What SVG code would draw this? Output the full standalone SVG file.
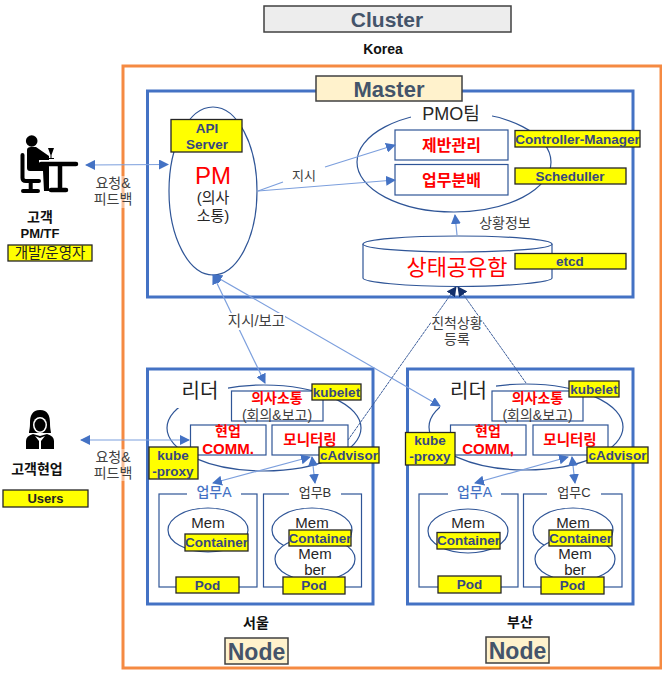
<svg xmlns="http://www.w3.org/2000/svg" width="662" height="677" viewBox="0 0 662 677">
<style>
text{font-family:"Liberation Sans","Noto Sans CJK KR",sans-serif;text-anchor:middle}
.frame{fill:none;stroke:#4472c4;stroke-width:3}
.thin{fill:#fff;stroke:#2f5597;stroke-width:1.2}
.open{fill:none;stroke:#2f5597;stroke-width:1.2}
.y{fill:#ff0;stroke:#262626;stroke-width:1.3}
.yt{font-weight:700;font-size:13.500px;fill:#36477f}
.title{fill:#fff2cc;stroke:#404040;stroke-width:1.5}
.tt{font-weight:700;fill:#44546a}
.red{fill:#f00;font-weight:700}
.lab{font-size:14px;fill:#404040}
.blk{font-size:15px;fill:#262626}
.b{font-weight:700;font-size:14px;fill:#111}
.wbg{fill:#fff;stroke:none}
.con{fill:none;stroke:#7c9fdd;stroke-width:1.2}
.dash{fill:none;stroke:#3e5f9c;stroke-width:1;stroke-dasharray:3 .6}
</style>
<defs>
<marker id="ah" markerUnits="userSpaceOnUse" markerWidth="11" markerHeight="10" refX="9" refY="5" orient="auto-start-reverse"><path d="M0 0L10 5L0 10Z" fill="#4472c4"/></marker>
<marker id="ad" markerUnits="userSpaceOnUse" markerWidth="11" markerHeight="10" refX="9" refY="5" orient="auto"><path d="M0 0L10 5L0 10Z" fill="#14306b"/></marker>
</defs>

<g id="cluster"><rect x="264" y="6" width="247" height="26" fill="#ededed" stroke="#404040" stroke-width="1.5"/><text class="tt" x="387" y="27" font-size="21">Cluster</text></g>
<text class="b" x="383" y="54">Korea</text>
<rect id="korea-frame" x="123" y="66" width="538" height="602" fill="none" stroke="#f58a42" stroke-width="3"/>

<g id="master">
<rect class="frame" x="147.500" y="91" width="485.500" height="206"/>
<rect class="title" x="316" y="76" width="146" height="25"/><text class="tt" x="389" y="97" font-size="22">Master</text>
</g>
<g id="pm">
<ellipse class="thin" cx="213" cy="191" rx="44" ry="84"/>
<text x="213" y="184" font-size="24" fill="#f00">PM</text>
<text class="blk" x="213" y="203">(의사</text><text class="blk" x="213" y="221">소통)</text>
<rect class="y" x="171" y="119.500" width="71" height="32.500"/>
<text class="yt" x="207" y="133">API</text><text class="yt" x="207" y="149">Server</text>
</g>
<g id="pmo">
<ellipse class="open" cx="454" cy="162" rx="97" ry="50"/>
<rect class="wbg" x="411" y="105" width="81" height="20"/>
<text x="451" y="120" font-size="18" fill="#262626">PMO팀</text>
<rect class="thin" x="395" y="130" width="113" height="30"/><text class="red" x="451.500" y="151" font-size="16">제반관리</text>
<rect class="thin" x="395" y="164.500" width="113" height="30.500"/><text class="red" x="451.500" y="186" font-size="16">업무분배</text>
<rect class="y" x="515" y="130.500" width="125" height="16.500"/><text class="yt" x="577.500" y="143.500">Controller-Manager</text>
<rect class="y" x="515" y="168" width="111" height="16"/><text class="yt" x="570" y="181">Scheduller</text>
</g>
<g id="state">
<path class="thin" d="M363 244V278C363 282 405 286.500 457.500 286.500S552 282 552 278V244"/>
<ellipse class="thin" cx="457.500" cy="244" rx="94.500" ry="8"/>
<text x="457" y="275" font-size="22" fill="#f00">상태공유함</text>
<rect class="y" x="515" y="253.500" width="111" height="15.500"/><text class="yt" x="570" y="266">etcd</text>
</g>

<g id="customer-pm">
<circle cx="31.700" cy="141" r="5.800" fill="#000"/>
<path d="M27 150Q27 147 31 147H36L49 156V160H39V164H48Q49 164 49 167V191H44L43 171H30Q27 171 27 168Z" fill="#000"/>
<path d="M22.500 155V178Q22.500 181 26 181H39M30.700 181V190M23 191H38" fill="none" stroke="#000" stroke-width="4" stroke-linecap="round"/>
<path d="M41 164H76M60 164V190M51 190H66" fill="none" stroke="#000" stroke-width="4.500" stroke-linecap="round"/>
<path d="M48 148H54L51.500 155V158H54V159H48V158H50.500V155Z" fill="#000"/>
<text class="b" x="40" y="222">고객</text><text class="b" x="40" y="238" style="font-size:13px">PM/TF</text>
<rect class="y" x="8" y="245" width="84" height="16"/><text x="50" y="258" font-size="14.500" fill="#222">개발/운영자</text>
</g>
<g id="customer-field">
<path d="M40 410C32 410 30 416 30 423C30 429 29 431 29 433H51C51 431 50 429 50 423C50 416 48 410 40 410Z" fill="#000"/>
<path d="M26 449V441Q26 436 33 434L40 436L47 434Q54 436 54 441V449Z" fill="#000"/>
<ellipse cx="40" cy="425" rx="7" ry="8" fill="#fff"/><ellipse cx="40" cy="425" rx="5.500" ry="6.500" fill="#000"/>
<path d="M35 436L40 438L45 436L41 441V449H39V441Z" fill="#fff"/>
<text class="b" x="37" y="474">고객현업</text>
<rect class="y" x="3" y="490" width="85" height="17"/><text x="45.500" y="503" font-size="13" font-weight="700" fill="#222">Users</text>
</g>

<g id="node-seoul">
<rect class="frame" x="147.500" y="369" width="225.500" height="235"/>
<ellipse class="open" cx="264" cy="428" rx="97" ry="43"/>
<rect class="wbg" x="172" y="375" width="56" height="33"/>
<text x="200" y="398" font-size="20" fill="#222">리더</text>
<rect class="thin" x="231.500" y="391" width="91.500" height="30"/>
<text class="red" x="277" y="403" font-size="14">의사소통</text><text class="lab" x="277" y="420">(회의&amp;보고)</text>
<rect class="thin" x="190.500" y="425" width="75.500" height="30"/>
<text class="red" x="228" y="436" font-size="14">현업</text><text class="red" x="228" y="454" font-size="15">COMM.</text>
<rect class="thin" x="272" y="425" width="76" height="30"/><text class="red" x="310" y="445" font-size="14.500">모니터링</text>
<rect class="y" x="312" y="384" width="49" height="16"/><text class="yt" x="336.500" y="397">kubelet</text>
<rect class="y" x="319" y="447" width="60" height="16"/><text class="yt" x="349" y="460">cAdvisor</text>
<rect class="y" x="149" y="447" width="49" height="32"/><text class="yt" x="173" y="460">kube</text><text class="yt" x="173" y="476">-proxy</text>
<rect class="thin" x="159" y="494" width="98" height="93"/>
<rect class="wbg" x="187" y="483" width="54" height="16"/><text x="214" y="497" font-size="14" font-weight="500" fill="#4472c4">업무A</text>
<rect class="thin" x="263.500" y="494" width="98" height="93"/>
<rect class="wbg" x="289" y="483" width="52" height="16"/><text x="315" y="497" font-size="13" fill="#333">업무B</text>
<ellipse class="thin" cx="208" cy="530" rx="40" ry="22"/><text class="blk" x="208" y="528">Mem</text>
<rect class="y" x="185" y="534" width="63" height="17"/><text class="yt" x="216.500" y="547">Container</text>
<rect class="y" x="176" y="577" width="63" height="16"/><text class="yt" x="207.500" y="590">Pod</text>
<ellipse class="thin" cx="312" cy="530" rx="40" ry="22"/><ellipse class="thin" cx="315" cy="559" rx="40" ry="22"/>
<text class="blk" x="312" y="528">Mem</text><text class="blk" x="315" y="558.500">Mem</text><text class="blk" x="315" y="574.500">ber</text>
<rect class="y" x="289" y="530" width="62" height="16"/><text class="yt" x="320" y="542.500">Container</text>
<rect class="y" x="283" y="577" width="62" height="17"/><text class="yt" x="314" y="590">Pod</text>
<text class="b" x="256" y="628">서울</text>
<rect class="title" x="225" y="638" width="63" height="26"/><text class="tt" x="256.500" y="660" font-size="23">Node</text>
</g>

<g id="node-busan">
<rect class="frame" x="407.500" y="369" width="225.500" height="235"/>
<ellipse class="open" cx="526" cy="427" rx="97" ry="43"/>
<rect class="wbg" x="440" y="375" width="56" height="33"/>
<text x="468.500" y="398" font-size="20" fill="#222">리더</text>
<rect class="thin" x="492" y="391" width="91" height="30"/>
<text class="red" x="537.500" y="403" font-size="14">의사소통</text><text class="lab" x="537.500" y="420">(회의&amp;보고)</text>
<rect class="thin" x="450.500" y="425" width="75.500" height="30"/>
<text class="red" x="488" y="436" font-size="14">현업</text><text class="red" x="488" y="454" font-size="15">COMM,</text>
<rect class="thin" x="533" y="425" width="75" height="30"/><text class="red" x="570" y="445" font-size="14.500">모니터링</text>
<rect class="y" x="569" y="381" width="50" height="16"/><text class="yt" x="594" y="394">kubelet</text>
<rect class="y" x="587" y="447" width="61" height="16"/><text class="yt" x="617.500" y="460">cAdvisor</text>
<rect class="y" x="405.500" y="432.500" width="49.500" height="32.500"/><text class="yt" x="430" y="445">kube</text><text class="yt" x="430" y="461">-proxy</text>
<rect class="thin" x="419" y="494" width="99" height="93"/>
<rect class="wbg" x="448" y="483" width="53" height="16"/><text x="474.500" y="497" font-size="14" font-weight="500" fill="#4472c4">업무A</text>
<rect class="thin" x="523.500" y="494" width="98.500" height="93"/>
<rect class="wbg" x="547" y="483" width="54" height="16"/><text x="574" y="497" font-size="13" fill="#333">업무C</text>
<ellipse class="thin" cx="468" cy="531" rx="40" ry="22"/><text class="blk" x="468" y="528">Mem</text>
<rect class="y" x="437" y="532.500" width="63" height="16.500"/><text class="yt" x="468.500" y="545">Container</text>
<rect class="y" x="438" y="576" width="63" height="17"/><text class="yt" x="469.500" y="589">Pod</text>
<ellipse class="thin" cx="573" cy="530" rx="40" ry="22"/><ellipse class="thin" cx="575" cy="559" rx="40" ry="22"/>
<text class="blk" x="573" y="528">Mem</text><text class="blk" x="575" y="558.500">Mem</text><text class="blk" x="575" y="574.500">ber</text>
<rect class="y" x="549" y="530" width="63" height="16"/><text class="yt" x="580.500" y="542.500">Container</text>
<rect class="y" x="541" y="577" width="63" height="17"/><text class="yt" x="572.500" y="590">Pod</text>
<text class="b" x="520" y="627">부산</text>
<rect class="title" x="486" y="637" width="63" height="26"/><text class="tt" x="517.500" y="659" font-size="23">Node</text>
</g>

<g id="connectors">
<path class="con" marker-start="url(#ah)" marker-end="url(#ah)" d="M86 165L168 164.500"/>
<path class="con" marker-start="url(#ah)" marker-end="url(#ah)" d="M81 440H189"/>
<path class="con" d="M258 191L283 182"/>
<path class="con" marker-end="url(#ah)" d="M325 167L395 145"/>
<path class="con" marker-end="url(#ah)" d="M258 191L395 180"/>
<path class="con" marker-end="url(#ah)" d="M457 235L455 215"/>
<path class="con" marker-start="url(#ah)" marker-end="url(#ah)" d="M213 275L265 383"/>
<path class="con" marker-start="url(#ah)" marker-end="url(#ah)" d="M213 275L440 406"/>
<path class="dash" marker-end="url(#ad)" d="M348 440L456 287"/>
<path class="dash" marker-end="url(#ad)" d="M526 383L458 287"/>
<path class="con" marker-start="url(#ah)" marker-end="url(#ah)" d="M310 457L213 483"/>
<path class="con" marker-start="url(#ah)" marker-end="url(#ah)" d="M312 457L315 483"/>
<path class="con" marker-start="url(#ah)" marker-end="url(#ah)" d="M568 457L475 483"/>
<path class="con" marker-start="url(#ah)" marker-end="url(#ah)" d="M572 457L575 483"/>
</g>

<g id="labels">
<text class="lab" x="304" y="180" style="font-size:13px">지시</text>
<text class="lab" x="505" y="228">상황정보</text>
<rect class="wbg" x="228" y="313" width="57" height="17"/><text class="lab" x="256.500" y="326" style="font-size:14.500px">지시/보고</text>
<rect class="wbg" x="431" y="316" width="52" height="33"/><text class="lab" x="457" y="328">진척상황</text><text class="lab" x="457" y="344">등록</text>
<rect class="wbg" x="94" y="176" width="40" height="32" opacity=".45"/><text class="lab" x="113" y="188">요청&amp;</text><text class="lab" x="113" y="204">피드백</text>
<rect class="wbg" x="94" y="449" width="40" height="32" opacity=".45"/><text class="lab" x="113" y="462">요청&amp;</text><text class="lab" x="113" y="478">피드백</text>
</g>
</svg>
